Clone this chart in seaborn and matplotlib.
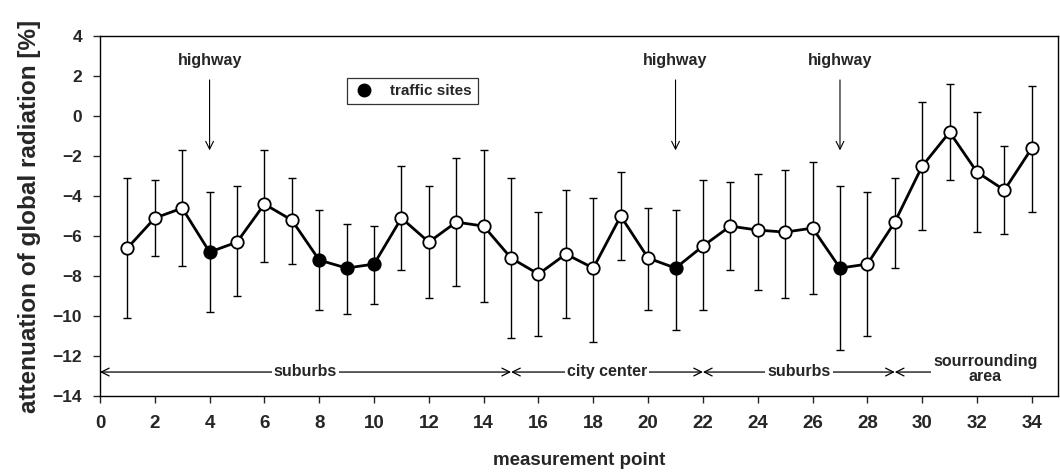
import numpy as np
import pandas as pd
import matplotlib
matplotlib.use("Agg")
import matplotlib.pyplot as plt
import seaborn as sns
from matplotlib.lines import Line2D

points = list(range(1, 35))
attenuation = [-6.6, -5.1, -4.6, -6.8, -6.3, -4.4, -5.2, -7.2, -7.6, -7.4,
               -5.1, -6.3, -5.3, -5.5, -7.1, -7.9, -6.9, -7.6, -5.0, -7.1,
               -7.6, -6.5, -5.5, -5.7, -5.8, -5.6, -7.6, -7.4, -5.3, -2.5,
               -0.8, -2.8, -3.7, -1.6]
err_top = [-3.1, -3.2, -1.7, -3.8, -3.5, -1.7, -3.1, -4.7, -5.4, -5.5,
           -2.5, -3.5, -2.1, -1.7, -3.1, -4.8, -3.7, -4.1, -2.8, -4.6,
           -4.7, -3.2, -3.3, -2.9, -2.7, -2.3, -3.5, -3.8, -3.1, 0.7,
           1.6, 0.2, -1.5, 1.5]
err_bottom = [-10.1, -7.0, -7.5, -9.8, -9.0, -7.3, -7.4, -9.7, -9.9, -9.4,
              -7.7, -9.1, -8.5, -9.3, -11.1, -11.0, -10.1, -11.3, -7.2, -9.7,
              -10.7, -9.7, -7.7, -8.7, -9.1, -8.9, -11.7, -11.0, -7.6, -5.7,
              -3.2, -5.8, -5.9, -4.8]
traffic_sites = [4, 8, 9, 10, 21, 27]
highway_points = [4, 21, 27]
regions = [("suburbs", 0, 15), ("city center", 15, 22), ("suburbs", 22, 29),
           ("sourrounding\narea", 29, 35)]
x_ticks = list(range(0, 35, 2))
y_ticks = list(range(-14, 5, 2))

df = pd.DataFrame({"point": points, "att": attenuation,
                   "top": err_top, "bottom": err_bottom})
df["traffic"] = df["point"].isin(traffic_sites)

sns.set_style("ticks")
plt.rcParams["font.family"] = ["Liberation Sans", "DejaVu Sans"]
plt.rcParams["font.weight"] = "bold"

fig = plt.figure(figsize=(10.6, 4.76), dpi=100)
ax = fig.add_axes([0.0943, 0.168, 0.9037, 0.756])

ax.errorbar(df["point"], df["att"],
            yerr=[df["att"] - df["bottom"], df["top"] - df["att"]],
            fmt="none", ecolor="black", elinewidth=1.0, capsize=2.7,
            capthick=1.0, zorder=2)
sns.lineplot(data=df, x="point", y="att", color="black", linewidth=2.0,
             ax=ax, zorder=3)
open_df = df[~df["traffic"]]
fill_df = df[df["traffic"]]
sns.scatterplot(data=open_df, x="point", y="att", s=80, color="white",
                edgecolor="black", linewidth=1.3, ax=ax, zorder=4)
sns.scatterplot(data=fill_df, x="point", y="att", s=80, color="black",
                edgecolor="black", linewidth=1.3, ax=ax, zorder=4)

ax.set_xlim(0, 34.95)
ax.set_ylim(-14, 4)
ax.set_xticks(x_ticks)
ax.set_yticks(y_ticks)
ax.tick_params(axis="both", width=1, length=5, direction="out")
ax.tick_params(axis="x", labelsize=13.5, pad=9)
ax.tick_params(axis="y", labelsize=12.5, pad=8)
for lab in ax.get_xticklabels() + ax.get_yticklabels():
    lab.set_fontweight("bold")
for s in ax.spines.values():
    s.set_linewidth(1.0)
    s.set_color("black")

ax.set_xlabel("measurement point", fontsize=13.5, fontweight="bold",
              labelpad=14)
ax.set_ylabel("attenuation of global radiation [%]", fontsize=17.5,
              fontweight="bold", labelpad=8)

# highway annotations
for hp in highway_points:
    ax.text(hp, 2.8, "highway", ha="center", va="center", fontsize=11.5,
            fontweight="bold")
    ax.annotate("", xy=(hp, -1.85), xytext=(hp, 1.95),
                arrowprops=dict(arrowstyle="->", color="black", lw=0.8,
                                mutation_scale=14))

# region annotations
ry = -12.8
for name, a, b in regions:
    mid = (a + b) / 2 + (0.3 if "\n" in name else 0.0)
    ax.annotate("", xy=(a, ry), xytext=(mid, ry),
                arrowprops=dict(arrowstyle="->", color="black", lw=0.9,
                                mutation_scale=14, shrinkA=0, shrinkB=0))
    ax.annotate("", xy=(b, ry), xytext=(mid, ry),
                arrowprops=dict(arrowstyle="->", color="black", lw=0.9,
                                mutation_scale=14, shrinkA=0, shrinkB=0))
    ax.text(mid, ry + (0.05 if "\n" not in name else 0.15), name,
            ha="center", va="center", fontsize=11.5, fontweight="bold",
            linespacing=1.0,
            bbox=dict(facecolor="white", edgecolor="none", pad=1.5))

handle = Line2D([], [], marker="o", linestyle="none", markerfacecolor="black",
                markeredgecolor="black", markersize=9)
leg = ax.legend([handle], ["traffic sites"], loc="upper left",
                bbox_to_anchor=(0.25, 0.905), frameon=True, fancybox=False,
                borderpad=0.4, handletextpad=1.0, handlelength=1.4,
                prop={"weight": "bold", "size": 11})
leg.get_frame().set_edgecolor("black")
leg.get_frame().set_linewidth(0.9)

fig.savefig("out.png", dpi=100)
